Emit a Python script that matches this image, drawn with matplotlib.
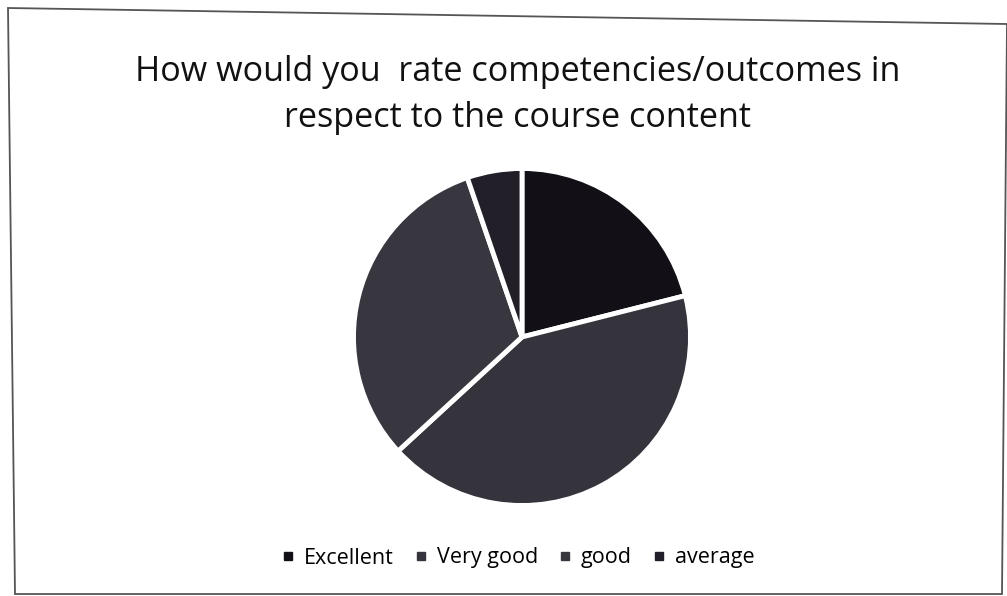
import matplotlib.pyplot as plt
from matplotlib.patches import Polygon
from matplotlib.lines import Line2D

# survey answers (counts)
labels = ["Excellent", "Very good", "good", "average"]
counts = [8, 16, 12, 2]
colors = ["#121016", "#35343c", "#383740", "#231f28"]

title = "How would you  rate competencies/outcomes in\nrespect to the course content"

fig = plt.figure(figsize=(10.07, 5.96), dpi=100)
plt.rcParams['font.family'] = ['Open Sans', 'DejaVu Sans']

# scanned frame around the chart (slightly skewed)
W, H = 1007, 596
corners = [(8, 8), (1007, 24), (1002, 594), (15, 594)]
frame = Polygon([(x / W, 1 - y / H) for x, y in corners], closed=True,
                fill=False, edgecolor="#555555", linewidth=1.3,
                transform=fig.transFigure)
fig.patches.append(frame)

fig.text(0.514, 1 - 95 / H, title, ha="center", va="center",
         fontsize=24.6, color="#111111", linespacing=1.45)

ax = fig.add_axes([522 / W - 0.169, 1 - 337 / H - 0.286, 0.338, 0.572])
wedges, _ = ax.pie(counts, colors=colors, startangle=90, counterclock=False,
                   wedgeprops=dict(edgecolor="white", linewidth=3.5))
ax.set_xlim(-1.01, 1.01)
ax.set_ylim(-1.01, 1.01)
ax.set_aspect("equal")

# small square legend keys
handles = [Line2D([], [], marker="s", linestyle="", markersize=5.5,
                  markerfacecolor=c, markeredgecolor=c) for c in colors]
fig.legend(handles, labels, loc="center", bbox_to_anchor=(0.515, 1 - 558 / H),
           ncol=4, frameon=False, fontsize=15.5, handlelength=0.5,
           handletextpad=0.5, columnspacing=1.0)

fig.savefig("out.png", dpi=100, facecolor="white")
